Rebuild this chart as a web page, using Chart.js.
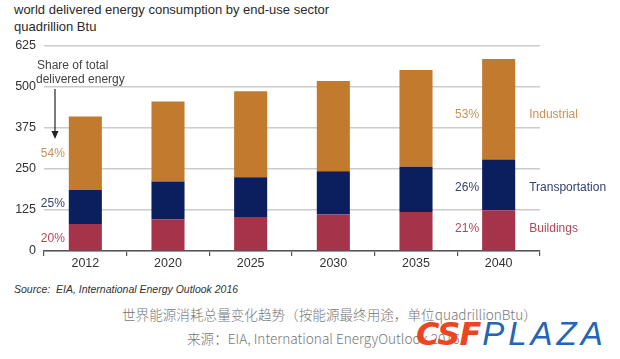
<!DOCTYPE html>
<html><head><meta charset="utf-8">
<script src="https://cdn.jsdelivr.net/npm/chart.js@4.4.0/dist/chart.umd.min.js"></script>
<style>
html,body{margin:0;padding:0;background:#fff;width:620px;height:359px;overflow:hidden;position:relative;font-family:"Liberation Sans",Arial,sans-serif;}
#wrap{position:absolute;left:0;top:0;width:620px;height:281px;}
.t{position:absolute;white-space:nowrap;}
</style></head><body>
<div class="t" style="left:14px;top:2px;font-size:13px;color:#2a2a2a;">world delivered energy consumption by end-use sector</div>
<div class="t" style="left:14px;top:19px;font-size:13px;color:#2a2a2a;">quadrillion Btu</div>
<div id="wrap"><canvas id="c" width="620" height="281"></canvas></div>
<div class="t" style="left:14px;top:283px;font-size:10.5px;font-style:italic;color:#333;">Source:&nbsp; EIA, International Energy Outlook 2016</div>
<div class="t" style="left:122px;top:304px;font-size:13.6px;color:#777;font-family:'Noto Sans CJK SC',sans-serif;font-weight:300;">世界能源消耗总量变化趋势（按能源最终用途，单位quadrillionBtu）</div>
<div class="t" style="left:187px;top:328px;font-size:13.6px;color:#777;font-family:'Noto Sans CJK SC',sans-serif;font-weight:300;">来源：EIA, International EnergyOutlook 2016</div>
<div class="t" style="left:416px;top:317px;font-size:32px;line-height:34px;font-style:italic;font-weight:900;color:#EC4520;letter-spacing:-1px;font-family:'DejaVu Sans',sans-serif;">CSF<span style="color:#2366B5;font-weight:300;font-size:33px;font-family:'Liberation Sans',sans-serif;letter-spacing:4px;margin-left:2px;">PLAZA</span></div>
<script>
const years = ['2012','2020','2025','2030','2035','2040'];
const buildings = [82, 96, 104, 111, 119, 124];
const transportation = [104, 116, 121, 132, 138, 155];
const industrial = [224, 244, 262, 275, 295, 306];
const yTicks = [0, 125, 250, 375, 500, 625];
const seriesNames = ['Buildings', 'Transportation', 'Industrial'];
const shares2012 = ['20%', '25%', '54%'];
const shares2040 = ['21%', '26%', '53%'];
const annotationText = ['Share of total', 'delivered energy'];

const colors = ['#A5334A', '#0B1E5E', '#C27A2E'];
const labelColors = ['#B3475A', '#34426C', '#C99256'];
const leftOffsets = [2, -3, 0];
const rightOffsets = [-2, 3, 5];

const labelsPlugin = {
  id: 'labelsPlugin',
  afterDatasetsDraw(chart) {
    const ctx = chart.ctx;
    const n = years.length - 1;
    ctx.save();
    ctx.font = '12px "Liberation Sans", Arial, sans-serif';
    ctx.textBaseline = 'middle';
    for (let d = 0; d < 3; d++) {
      const meta = chart.getDatasetMeta(d);
      const p0 = meta.data[0].getProps(['x','y','base','width'], true);
      ctx.fillStyle = labelColors[d];
      ctx.textAlign = 'right';
      ctx.fillText(shares2012[d], p0.x - p0.width/2 - 4, (p0.y + p0.base)/2 + leftOffsets[d]);
      const pn = meta.data[n].getProps(['x','y','base','width'], true);
      ctx.fillText(shares2040[d], pn.x - pn.width/2 - 3, (pn.y + pn.base)/2 + rightOffsets[d]);
      ctx.textAlign = 'left';
      ctx.fillText(seriesNames[d], pn.x + pn.width/2 + 14, (pn.y + pn.base)/2 + rightOffsets[d]);
    }
    ctx.fillStyle = '#444';
    ctx.textAlign = 'left';
    ctx.fillText(annotationText[0], 37, 66);
    ctx.fillText(annotationText[1], 36, 80);
    ctx.strokeStyle = '#222';
    ctx.lineWidth = 1.2;
    ctx.beginPath(); ctx.moveTo(55, 89); ctx.lineTo(55, 134); ctx.stroke();
    ctx.fillStyle = '#222';
    ctx.beginPath(); ctx.moveTo(51.5, 131); ctx.lineTo(58.5, 131); ctx.lineTo(55, 139); ctx.closePath(); ctx.fill();
    ctx.restore();
  }
};

new Chart(document.getElementById('c'), {
  type: 'bar',
  data: {
    labels: years,
    datasets: [
      { label: seriesNames[0], data: buildings, backgroundColor: colors[0] },
      { label: seriesNames[1], data: transportation, backgroundColor: colors[1] },
      { label: seriesNames[2], data: industrial, backgroundColor: colors[2] }
    ]
  },
  options: {
    responsive: false,
    animation: false,
    devicePixelRatio: 1,
    layout: { padding: { top: 46, right: 80, left: 0, bottom: 0 } },
    plugins: { legend: { display: false }, tooltip: { enabled: false } },
    datasets: { bar: { categoryPercentage: 0.8, barPercentage: 0.5 } },
    scales: {
      x: {
        stacked: true,
        offset: true,
        grid: { display: true, drawOnChartArea: false, drawTicks: true, tickLength: 5, offset: true, color: '#555', lineWidth: 1.2 },
        border: { display: true, color: '#555', width: 1.5 },
        ticks: { color: '#333', font: { size: 12.5, family: '"Liberation Sans", Arial, sans-serif' }, padding: 0 },
        afterFit: s => { s.height = 30; }
      },
      y: {
        stacked: true,
        min: 0, max: 625,
        afterBuildTicks: s => { s.ticks = yTicks.map(v => ({ value: v })); },
        grid: { color: '#CBCBCB', lineWidth: 1.5, drawTicks: false },
        border: { display: false },
        ticks: { color: '#333', font: { size: 12.5, family: '"Liberation Sans", Arial, sans-serif' }, padding: 8 },
        afterFit: s => { s.width = 44; }
      }
    }
  },
  plugins: [labelsPlugin]
});
</script>
</body></html>
